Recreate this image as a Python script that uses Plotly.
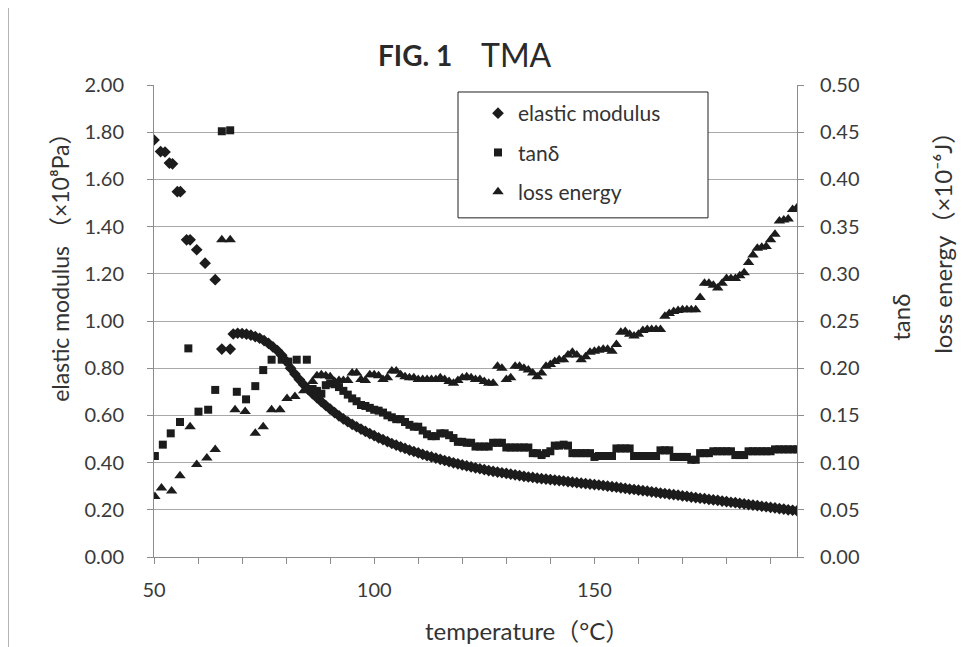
import plotly.graph_objects as go

# ---------------- data ----------------
# elastic modulus (x10^8 Pa), left axis
E_T_LOW = [50.0, 51.5, 52.5, 53.5, 54.2, 55.3, 56.0, 57.4, 58.2, 59.7, 61.6, 63.9, 65.4, 67.3]
E_LOW = [1.767, 1.718, 1.716, 1.669, 1.666, 1.548, 1.548, 1.344, 1.344, 1.302, 1.245, 1.175, 0.881, 0.881]
E_T_DENSE = list(range(68, 197))
E_DENSE = [
    0.945, 0.948, 0.947, 0.944, 0.940, 0.934, 0.927, 0.917, 0.905, 0.890, 0.875, 0.855,
    0.830, 0.800, 0.775, 0.752, 0.730, 0.710, 0.692, 0.675, 0.658, 0.642,
    0.627, 0.612, 0.598, 0.585, 0.573, 0.562, 0.552, 0.542, 0.532, 0.523,
    0.514, 0.505, 0.497, 0.489, 0.481, 0.474, 0.467, 0.460, 0.453, 0.447,
    0.441, 0.435, 0.429, 0.424, 0.419, 0.414, 0.409, 0.404, 0.399, 0.395,
    0.390, 0.386, 0.382, 0.378, 0.374, 0.370, 0.366, 0.363, 0.360, 0.357,
    0.354, 0.351, 0.348, 0.345, 0.342, 0.339, 0.337, 0.334, 0.332, 0.330,
    0.328, 0.326, 0.324, 0.322, 0.319, 0.317, 0.315, 0.313, 0.311, 0.309,
    0.307, 0.305, 0.303, 0.300, 0.298, 0.296, 0.293, 0.291, 0.288, 0.286,
    0.283, 0.281, 0.279, 0.276, 0.274, 0.271, 0.269, 0.266, 0.264, 0.262,
    0.259, 0.257, 0.254, 0.252, 0.249, 0.247, 0.244, 0.242, 0.240, 0.237,
    0.235, 0.232, 0.230, 0.227, 0.225, 0.222, 0.220, 0.218, 0.215, 0.213,
    0.210, 0.208, 0.205, 0.203, 0.200, 0.198, 0.196,
]

# tan delta, right axis
TAN_T_LOW = [50.2, 52.0, 53.8, 55.9, 57.8, 60.1, 62.3, 63.9, 65.4, 67.3,
             68.8, 70.9, 73.0, 74.8, 76.7, 79.0, 80.5, 82.4, 84.7]
TAN_LOW = [0.107, 0.119, 0.131, 0.143, 0.221, 0.154, 0.156, 0.177, 0.451, 0.452,
           0.175, 0.167, 0.181, 0.198, 0.209, 0.209, 0.207, 0.209, 0.209]
T_DENSE = list(range(86, 197))
TAN_DENSE = [
    0.178, 0.176, 0.173, 0.182,
    0.184, 0.183, 0.180, 0.176, 0.172, 0.168, 0.165, 0.161, 0.160, 0.158,
    0.156, 0.155, 0.153, 0.150, 0.148, 0.146, 0.146, 0.143, 0.140, 0.138,
    0.138, 0.134, 0.130, 0.128, 0.128, 0.131, 0.131, 0.129, 0.126, 0.122,
    0.122, 0.121, 0.121, 0.117, 0.117, 0.117, 0.117, 0.121, 0.121, 0.121,
    0.116, 0.116, 0.116, 0.116, 0.116, 0.116, 0.110, 0.110, 0.108, 0.110,
    0.112, 0.118, 0.118, 0.119, 0.118, 0.110, 0.110, 0.110, 0.110, 0.110,
    0.106, 0.107, 0.107, 0.107, 0.107, 0.115, 0.115, 0.115, 0.115, 0.107,
    0.107, 0.107, 0.107, 0.107, 0.107, 0.113, 0.113, 0.113, 0.106, 0.106,
    0.106, 0.106, 0.103, 0.103, 0.110, 0.110, 0.110, 0.112, 0.112, 0.112,
    0.112, 0.112, 0.108, 0.108, 0.108, 0.112, 0.112, 0.112, 0.112, 0.112,
    0.112, 0.114, 0.114, 0.114, 0.114, 0.114, 0.114,
]

# loss energy (x10^-6 J), right axis
LE_T_LOW = [50.2, 51.7, 54.0, 55.9, 58.2, 59.7, 62.0, 63.9, 65.4, 67.3,
            68.4, 70.7, 73.0, 74.8, 76.7, 78.6, 80.2, 82.0, 84.0]
LE_LOW = [0.064, 0.073, 0.070, 0.086, 0.138, 0.098, 0.105, 0.114, 0.336, 0.336,
          0.156, 0.154, 0.131, 0.138, 0.156, 0.156, 0.168, 0.170, 0.176]
LE_DENSE = [
    0.186, 0.192, 0.193, 0.192,
    0.191, 0.186, 0.187, 0.187, 0.187, 0.195, 0.195, 0.188, 0.187, 0.193,
    0.193, 0.192, 0.188, 0.190, 0.197, 0.197, 0.193, 0.191, 0.190, 0.190,
    0.188, 0.188, 0.188, 0.188, 0.188, 0.190, 0.188, 0.186, 0.184, 0.187,
    0.190, 0.191, 0.190, 0.188, 0.188, 0.186, 0.184, 0.184, 0.202, 0.200,
    0.188, 0.190, 0.202, 0.202, 0.200, 0.198, 0.195, 0.191, 0.195, 0.202,
    0.204, 0.207, 0.209, 0.209, 0.214, 0.217, 0.214, 0.209, 0.212, 0.217,
    0.218, 0.219, 0.220, 0.220, 0.218, 0.225, 0.238, 0.239, 0.236, 0.234,
    0.236, 0.240, 0.241, 0.241, 0.241, 0.241, 0.255, 0.258, 0.260, 0.261,
    0.262, 0.262, 0.262, 0.262, 0.275, 0.290, 0.290, 0.288, 0.285, 0.290,
    0.295, 0.295, 0.295, 0.298, 0.301, 0.312, 0.320, 0.327, 0.328, 0.329,
    0.336, 0.342, 0.356, 0.357, 0.358, 0.368, 0.370,
]

X_TICKS = [50, 100, 150]
X_MINOR_TICKS = [60, 70, 80, 90, 110, 120, 130, 140, 160, 170, 180, 190]
Y_LEFT_TICKS = [0.0, 0.2, 0.4, 0.6, 0.8, 1.0, 1.2, 1.4, 1.6, 1.8, 2.0]
Y_RIGHT_TICKS = [0.0, 0.05, 0.10, 0.15, 0.20, 0.25, 0.30, 0.35, 0.40, 0.45, 0.50]

# ---------------- figure ----------------
OFF = 8            # the page body adds an 8 px margin around the figure
W, H = 961, 639
L, R, T, B = 146, 172, 77, 89.5
PW, PH = W - L - R, H - T - B


def px(x):
    """screen x (reference pixels) -> paper x"""
    return (x - OFF - L) / PW


def py(y):
    """screen y (reference pixels) -> paper y"""
    return (H - B - (y - OFF)) / PH


INK = "#1c1c1c"
AX = "#8c8c8c"
TXT = "#333333"
FONT = "Lato, 'Noto Sans', 'Noto Sans CJK JP', sans-serif"

fig = go.Figure()
fig.add_trace(go.Scatter(
    x=E_T_LOW + E_T_DENSE, y=E_LOW + E_DENSE, mode="markers",
    name="elastic modulus", legendgroup="a",
    marker=dict(symbol="diamond", size=9, color=INK),
))
fig.add_trace(go.Scatter(
    x=TAN_T_LOW + T_DENSE, y=TAN_LOW + TAN_DENSE, mode="markers",
    name="tanδ", legendgroup="b", yaxis="y2",
    marker=dict(symbol="square", size=8, color=INK),
))
fig.add_trace(go.Scatter(
    x=LE_T_LOW + T_DENSE, y=LE_LOW + LE_DENSE, mode="markers",
    name="loss energy", legendgroup="c", yaxis="y2",
    marker=dict(symbol="triangle-up", size=10, color=INK),
))

axis_common = dict(
    showline=True, linecolor=AX, linewidth=1,
    ticks="outside", ticklen=6, tickcolor=AX,
    tickfont=dict(family=FONT, size=20, color="#3a3a3a"),
    zeroline=False,
)

fig.update_layout(
    width=W, height=H,
    margin=dict(l=L, r=R, t=T, b=B, pad=0),
    paper_bgcolor="white", plot_bgcolor="white",
    font=dict(family=FONT, color=TXT),
    xaxis=dict(
        range=[50, 196], tickmode="array", tickvals=X_TICKS,
        minor=dict(tickmode="array", tickvals=X_MINOR_TICKS, ticks="outside",
                   ticklen=6, tickcolor=AX, showgrid=False),
        showgrid=False, ticklabelstandoff=9, **axis_common,
    ),
    yaxis=dict(
        range=[0, 2.0], tickmode="array", tickvals=Y_LEFT_TICKS,
        tickformat=".2f", showgrid=True, gridcolor="#a8a8a8", gridwidth=1,
        ticklabelstandoff=19, **axis_common,
    ),
    yaxis2=dict(
        range=[0, 0.5], tickmode="array", tickvals=Y_RIGHT_TICKS,
        tickformat=".2f", overlaying="y", side="right", showgrid=False,
        ticklabelstandoff=12, **axis_common,
    ),
    showlegend=True,
    legend=dict(
        x=px(478), y=py(93), xanchor="left", yanchor="top",
        bgcolor="rgba(0,0,0,0)", borderwidth=0,
        font=dict(family=FONT, size=21, color=TXT),
        tracegroupgap=9, traceorder="grouped",
    ),
)

# legend frame (covers grid lines)
fig.add_shape(type="rect", xref="paper", yref="paper",
              x0=px(458), x1=px(708), y0=py(218), y1=py(92),
              line=dict(color="#202020", width=1), fillcolor="white", layer="above")
# faint page frame on the left
fig.add_shape(type="line", xref="paper", yref="paper",
              x0=px(8), x1=px(8), y0=py(660), y1=py(0),
              line=dict(color="#9a9a9a", width=1.5))


def label(text, x, y, size, angle=0, weight="normal", color=TXT):
    fig.add_annotation(
        text=text, xref="paper", yref="paper", x=px(x), y=py(y),
        xanchor="center", yanchor="middle", showarrow=False, textangle=angle,
        font=dict(family=FONT, size=size, color=color, weight=weight),
    )


label("FIG. 1", 415, 55, 28, weight="bold", color="#2a2a2a")
label("TMA", 516, 54, 32, color="#2a2a2a")
label("temperature（°C）", 527, 631, 24)
label("elastic modulus （×10⁸Pa）", 60, 262, 23, angle=-90)
label("tanδ", 901, 318, 24, angle=-90)
label("loss energy（×10⁻⁶J）", 943, 237, 24, angle=-90)

fig.write_html("out.html")
